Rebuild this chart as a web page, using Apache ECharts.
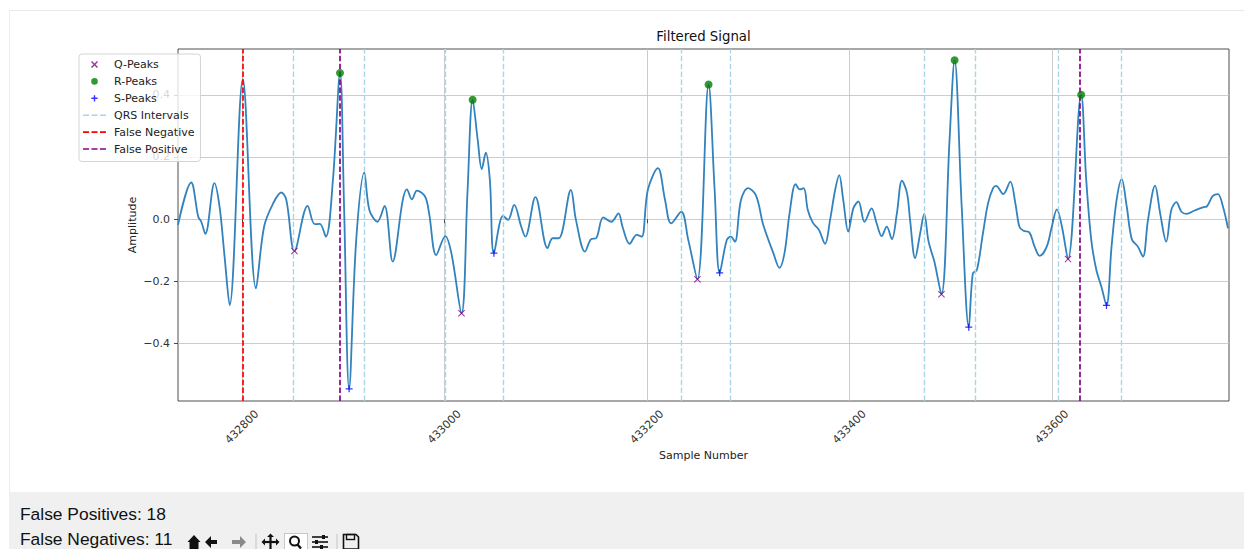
<!DOCTYPE html>
<html>
<head>
<meta charset="utf-8">
<title>Filtered Signal</title>
<script src="https://cdn.jsdelivr.net/npm/echarts@6.0.0/dist/echarts.min.js"></script>
<style>
  html, body { margin: 0; padding: 0; background: #fff; }
  body { width: 1244px; height: 549px; position: relative; overflow: hidden; }
  #frame { position: absolute; left: 9px; top: 10px; width: 1235px; height: 539px; border-top: 1px solid #e8e8e8; border-left: 1px solid #ededed; box-sizing: border-box; }
  #chart { position: absolute; left: 0; top: 0; width: 1244px; height: 492px; }
  #panel { position: absolute; left: 9px; top: 492px; width: 1235px; height: 57px; background: #f0f0f0;
           font-family: "Liberation Sans", Arial, sans-serif; font-size: 17.4px; color: #111; }
  #panel .line { position: absolute; left: 11px; line-height: 20px; white-space: nowrap; }
  #panel svg { position: absolute; left: 0; top: 0; }
</style>
</head>
<body>
<div id="frame"></div>
<div id="chart"></div>
<div id="panel">
  <div class="line" style="top:12px">False Positives: 18</div>
  <div class="line" style="top:37px">False Negatives: 11</div>
  <svg width="1235" height="57" viewBox="0 0 1235 57">
    <!-- toolbar: home, back, forward, pan, zoom, config, save -->
    <path d="M178.5,50 L185,43 L191.5,50 L189.5,50 L189.5,57 L180.5,57 L180.5,50 Z" fill="#111"/>
    <path d="M196,50 L202,44 L202,48 L208,48 L208,52 L202,52 L202,56 Z" fill="#111"/>
    <path d="M237,50 L231,44 L231,48 L223,48 L223,52 L231,52 L231,56 Z" fill="#8a8a8a"/>
    <line x1="247" y1="42" x2="247" y2="57" stroke="#c4c4c4"/>
    <g stroke="#111" stroke-width="2.2" fill="none">
      <line x1="254" y1="50" x2="269" y2="50"/>
      <line x1="261.5" y1="43" x2="261.5" y2="57"/>
    </g>
    <path d="M261.5,41.5 L258,45 L265,45 Z M252.5,50 L256,46.5 L256,53.5 Z M270.5,50 L267,46.5 L267,53.5 Z" fill="#111"/>
    <rect x="275.5" y="41.5" width="23" height="16" fill="#fff" stroke="#c8c8c8"/>
    <circle cx="285.5" cy="49" r="4.5" stroke="#111" stroke-width="2" fill="none"/>
    <line x1="288.5" y1="52.5" x2="292" y2="56.5" stroke="#111" stroke-width="2.4"/>
    <g stroke="#111" stroke-width="1.6">
      <line x1="303" y1="45" x2="319" y2="45"/>
      <line x1="303" y1="50" x2="319" y2="50"/>
      <line x1="303" y1="55" x2="319" y2="55"/>
    </g>
    <g fill="#111">
      <rect x="313" y="43" width="3" height="4"/>
      <rect x="306" y="48" width="3" height="4"/>
      <rect x="311" y="53" width="3" height="4"/>
    </g>
    <line x1="328" y1="42" x2="328" y2="57" stroke="#c4c4c4"/>
    <path d="M334.5,42.5 H347 L349.5,45 V57 H334.5 Z" fill="none" stroke="#111" stroke-width="1.6"/>
    <rect x="337.5" y="42.5" width="8" height="5" fill="none" stroke="#111" stroke-width="1.4"/>
  </svg>
</div>
<script>
// signal trace (sample number / amplitude)
var signalX = [432737, 432750, 432757, 432760, 432764, 432773, 432778, 432783, 432788, 432801,
  432814, 432822, 432831, 432839, 432844, 432852, 432865, 432872, 432877, 432883,
  432890, 432897, 432901, 432906, 432913, 432921, 432926, 432934, 432941, 432949,
  432959, 432963, 432968, 432973, 432981, 432985, 432992, 433001, 433007, 433017,
  433023, 433028, 433033, 433037, 433041, 433045, 433049, 433058, 433063, 433069,
  433076, 433080, 433090, 433102, 433107, 433113, 433125, 433130, 433139, 433145,
  433150, 433157, 433165, 433172, 433176, 433183, 433190, 433195, 433201, 433211,
  433218, 433224, 433234, 433241, 433250, 433261, 433267, 433272, 433279, 433283,
  433287, 433293, 433300, 433308, 433315, 433325, 433331, 433336, 433341, 433347,
  433351, 433355, 433359, 433364, 433370, 433376, 433381, 433386, 433390, 433394,
  433399, 433404, 433409, 433415, 433422, 433427, 433432, 433437, 433442, 433447,
  433452, 433457, 433460, 433465, 433470, 433474, 433478, 433481, 433484, 433491,
  433499, 433504, 433511, 433518, 433522, 433526, 433532, 433537, 433542, 433545,
  433552, 433559, 433564, 433568, 433572, 433578, 433583, 433588, 433595, 433600,
  433605, 433610, 433616, 433629, 433634, 433639, 433644, 433649, 433654, 433659,
  433664, 433669, 433674, 433679, 433685, 433690, 433695, 433702, 433707, 433713,
  433718, 433723, 433728, 433733, 433741, 433750, 433753, 433759, 433764, 433769,
  433774];
var signalY = [-0.018, 0.118, 0.008, -0.008, -0.047, 0.116, 0.041, -0.120, -0.276, 0.450,
  -0.222, -0.024, 0.051, 0.086, 0.062, -0.102, 0.043, -0.016, -0.015, -0.056,
  0.126, 0.470, 0.040, -0.545, -0.067, 0.150, 0.030, -0.008, 0.043, -0.136,
  0.062, 0.096, 0.064, 0.092, 0.073, 0.019, -0.115, -0.054, -0.109, -0.302,
  0.094, 0.384, 0.255, 0.161, 0.214, 0.126, -0.109, 0.011, -0.002, 0.046,
  -0.024, -0.056, 0.071, -0.093, -0.061, -0.061, 0.094, -0.002, -0.104, -0.064,
  -0.061, 0.006, -0.008, 0.019, -0.024, -0.079, -0.050, -0.056, 0.094, 0.164,
  0.062, -0.013, 0.024, -0.067, -0.193, 0.433, 0.094, -0.172, -0.067, -0.056,
  -0.072, 0.062, 0.100, 0.075, -0.018, -0.109, -0.156, -0.109, 0.019, 0.113,
  0.096, 0.100, 0.030, -0.011, -0.034, -0.079, -0.002, 0.094, 0.142, 0.062,
  -0.040, 0.035, 0.057, -0.008, 0.035, -0.013, -0.054, -0.024, -0.064, 0.019,
  0.124, 0.084, -0.002, -0.125, -0.045, 0.017, -0.067, -0.104, -0.136, -0.241,
  0.255, 0.511, 0.041, -0.347, -0.174, -0.163, -0.045, 0.051, 0.100, 0.107,
  0.081, 0.121, 0.051, -0.024, -0.037, -0.043, -0.088, -0.118, -0.088, -0.024,
  0.032, -0.024, -0.128, 0.400, 0.126, -0.067, -0.163, -0.217, -0.277, -0.088,
  0.062, 0.129, 0.041, -0.064, -0.088, -0.120, -0.002, 0.108, 0.019, -0.072,
  0.030, 0.055, 0.024, 0.017, 0.028, 0.039, 0.041, 0.075, 0.081, 0.041,
  -0.029];

// detected peaks
var qPeakX = [432852, 433017, 433250, 433491, 433616];
var qPeakY = [-0.102, -0.302, -0.193, -0.241, -0.128];
var rPeakX = [432897, 433028, 433261, 433504, 433629];
var rPeakY = [0.470, 0.384, 0.433, 0.511, 0.400];
var sPeakX = [432906, 433049, 433272, 433518, 433654];
var sPeakY = [-0.545, -0.109, -0.172, -0.347, -0.277];

// vertical markers
var qrsLines = [432851, 432921, 433001, 433058, 433234, 433282, 433474, 433524, 433606, 433669];
var falseNegLines = [432801];
var falsePosLines = [432897, 433628];

// axes
var xRange = [432737, 433775];
var yRange = [-0.584, 0.547];
var xTicks = [432800, 433000, 433200, 433400, 433600];
var yTicks = [-0.4, -0.2, 0.0, 0.2, 0.4];

function zip(xs, ys) {
  return xs.map(function (x, i) { return [x, ys[i]]; });
}

var FONT = 'DejaVu Sans';
var xMark = 'path://M0,1L1,0L5,4L9,0L10,1L6,5L10,9L9,10L5,6L1,10L0,9L4,5Z';
var plusMark = 'path://M4.1,0H5.9V4.1H10V5.9H5.9V10H4.1V5.9H0V4.1H4.1Z';

// legend icons drawn in a 23x7 box (tiny corner squares fix the box)
var box = 'M0,0h0.01v0.01h-0.01Z M22.99,6.99h0.01v0.01h-0.01Z ';
var legX = 'path://' + box + 'M8,1L9,0L11.5,2.5L14,0L15,1L12.5,3.5L15,6L14,7L11.5,4.5L9,7L8,6L10.5,3.5Z';
var legDot = 'path://' + box + 'M8.2,3.5A3.3,3.3,0,1,1,14.8,3.5A3.3,3.3,0,1,1,8.2,3.5Z';
var legPlus = 'path://' + box + 'M10.8,0.4H12.2V2.8H14.6V4.2H12.2V6.6H10.8V4.2H8.4V2.8H10.8Z';
var legDash = 'path://' + box + 'M0,2.7H6V4.3H0Z M8.5,2.7H14.5V4.3H8.5Z M17,2.7H23V4.3H17Z';

function vLines(name, values, color, width) {
  var style = { color: color, width: width, type: [5.5, 2.4] };
  return {
    name: name,
    type: 'line',
    data: [],
    symbol: 'none',
    itemStyle: { color: color },
    lineStyle: style,
    z: 3,
    markLine: {
      silent: true,
      symbol: ['none', 'none'],
      label: { show: false },
      animation: false,
      lineStyle: style,
      data: values.map(function (v) { return { xAxis: v }; })
    }
  };
}

var chart = echarts.init(document.getElementById('chart'), null, { renderer: 'svg' });

chart.setOption({
  animation: false,
  title: {
    text: 'Filtered Signal',
    left: 703.5,
    top: 30,
    padding: 0,
    textAlign: 'center',
    textStyle: { fontFamily: FONT, fontSize: 13.3, fontWeight: 'normal', color: '#111' }
  },
  legend: {
    data: [
      { name: 'Q-Peaks', icon: legX },
      { name: 'R-Peaks', icon: legDot },
      { name: 'S-Peaks', icon: legPlus },
      { name: 'QRS Intervals', icon: legDash },
      { name: 'False Negative', icon: legDash },
      { name: 'False Positive', icon: legDash }
    ],
    orient: 'vertical',
    left: 79,
    top: 54,
    padding: [5, 6, 7, 4],
    itemWidth: 23,
    itemHeight: 7,
    itemGap: 5.9,
    selectedMode: false,
    backgroundColor: 'rgba(255,255,255,0.8)',
    borderColor: '#d4d4d4',
    borderWidth: 1,
    borderRadius: 3,
    textStyle: { fontFamily: FONT, fontSize: 11, color: '#222', padding: [0, 0, 0, 3] }
  },
  grid: {
    left: 178, right: 15, top: 49, bottom: 91,
    show: true, borderColor: '#3a3a3a', borderWidth: 0.9, backgroundColor: 'transparent'
  },
  xAxis: {
    type: 'value',
    min: xRange[0],
    max: xRange[1],
    name: 'Sample Number',
    nameLocation: 'middle',
    nameGap: 49,
    nameMoveOverlap: false,
    nameTextStyle: { fontFamily: FONT, fontSize: 11, color: '#222' },
    axisLine: { show: false },
    axisTick: { show: true, length: 4, lineStyle: { color: '#333', width: 0.9 }, customValues: xTicks },
    axisLabel: {
      customValues: xTicks,
      rotate: 45, align: 'center', verticalAlign: 'middle', margin: 26,
      fontFamily: FONT, fontSize: 11, color: '#333',
      formatter: function (v) { return String(v); }
    },
    splitLine: { show: true, lineStyle: { color: '#c6c6c6', width: 0.9 } }
  },
  yAxis: {
    type: 'value',
    min: yRange[0],
    max: yRange[1],
    name: 'Amplitude',
    nameLocation: 'middle',
    nameGap: 40,
    nameMoveOverlap: false,
    nameTextStyle: { fontFamily: FONT, fontSize: 11, color: '#222' },
    axisLine: { show: false },
    axisTick: { show: true, length: 4, lineStyle: { color: '#333', width: 0.9 }, customValues: yTicks },
    axisLabel: {
      customValues: yTicks,
      margin: 8,
      fontFamily: FONT, fontSize: 11, color: '#333',
      formatter: function (v) { return (v < 0 ? '\u2212' : '') + Math.abs(v).toFixed(1); }
    },
    splitLine: { show: true, lineStyle: { color: '#c6c6c6', width: 0.9 } }
  },
  series: [
    {
      name: 'Filtered Signal',
      type: 'line',
      data: zip(signalX, signalY),
      showSymbol: false,
      smooth: 0.35,
      lineStyle: { color: '#3182bd', width: 1.8 },
      z: 2
    },
    vLines('QRS Intervals', qrsLines, '#a9d5e6', 1.4),
    vLines('False Negative', falseNegLines, '#ff0000', 1.7),
    vLines('False Positive', falsePosLines, '#8b008b', 1.7),
    {
      name: 'Q-Peaks', type: 'scatter', data: zip(qPeakX, qPeakY),
      symbol: xMark, symbolSize: 7, itemStyle: { color: '#800080' }, z: 5
    },
    {
      name: 'R-Peaks', type: 'scatter', data: zip(rPeakX, rPeakY),
      symbol: 'circle', symbolSize: 8, itemStyle: { color: '#008000' }, z: 5
    },
    {
      name: 'S-Peaks', type: 'scatter', data: zip(sPeakX, sPeakY),
      symbol: plusMark, symbolSize: 7, itemStyle: { color: '#0000ff' }, z: 5
    }
  ]
});
</script>
</body>
</html>
